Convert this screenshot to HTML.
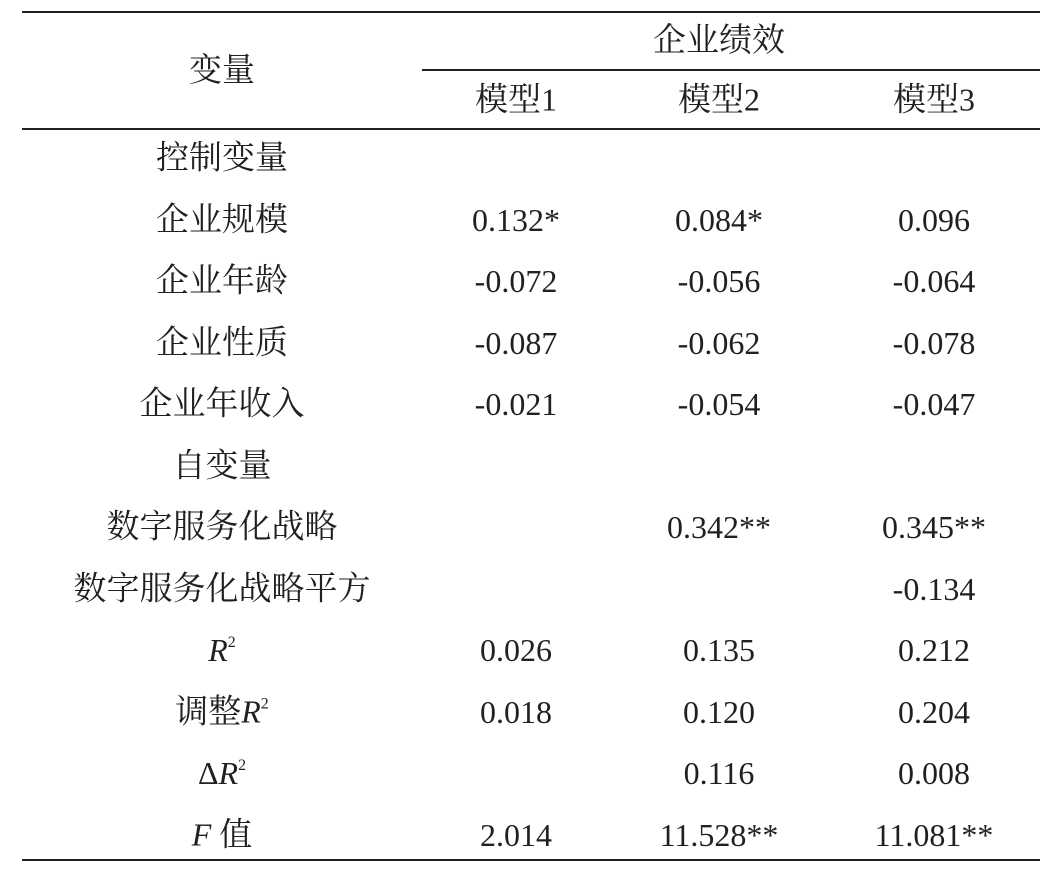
<!DOCTYPE html>
<html><head><meta charset="utf-8"><style>
body{margin:0;width:1057px;height:870px;background:#fff;position:relative;font-family:"Liberation Serif","Noto Serif CJK SC",serif;color:#231f20;overflow:hidden}
.l{position:absolute;background:#231f20}
.t{position:absolute;font-size:32px;line-height:34px;white-space:nowrap;transform:translate(-50%,-50%)}
.c{font-size:33px}
i{font-style:italic}
sup{font-size:16px;vertical-align:14px;line-height:0}
</style></head><body>
<div class="l" style="left:22px;top:11px;width:1018px;height:2px"></div>
<div class="l" style="left:422px;top:69px;width:618px;height:1.5px"></div>
<div class="l" style="left:22px;top:128px;width:1018px;height:1.5px"></div>
<div class="l" style="left:22px;top:859px;width:1018px;height:2px"></div>
<div class="t c" style="left:222px;top:71px">变量</div>
<div class="t c" style="left:719px;top:41px">企业绩效</div>
<div class="t" style="left:516px;top:100px"><span class="c">模型</span>1</div>
<div class="t" style="left:719px;top:100px"><span class="c">模型</span>2</div>
<div class="t" style="left:934px;top:100px"><span class="c">模型</span>3</div>
<div id="rows"></div>
<script>
var rows=[["<span class=c>控制变量</span>","","",""],["<span class=c>企业规模</span>","0.132*","0.084*","0.096"],["<span class=c>企业年龄</span>","-0.072","-0.056","-0.064"],["<span class=c>企业性质</span>","-0.087","-0.062","-0.078"],["<span class=c>企业年收入</span>","-0.021","-0.054","-0.047"],["<span class=c>自变量</span>","","",""],["<span class=c>数字服务化战略</span>","","0.342**","0.345**"],["<span class=c>数字服务化战略平方</span>","","","-0.134"],["<i>R</i><sup>2</sup>","0.026","0.135","0.212"],["<span class=c>调整</span><i>R</i><sup>2</sup>","0.018","0.120","0.204"],["Δ<i>R</i><sup>2</sup>","","0.116","0.008"],["<i>F</i> <span class=c>值</span>","2.014","11.528**","11.081**"]];
var xs=[222,516,719,934],h="";
rows.forEach(function(r,i){var y=158+i*61.5;r.forEach(function(c,j){if(c)h+='<div class="t" style="left:'+xs[j]+'px;top:'+y+'px">'+c+'</div>';});});
document.getElementById("rows").innerHTML=h;
</script>
</body></html>
